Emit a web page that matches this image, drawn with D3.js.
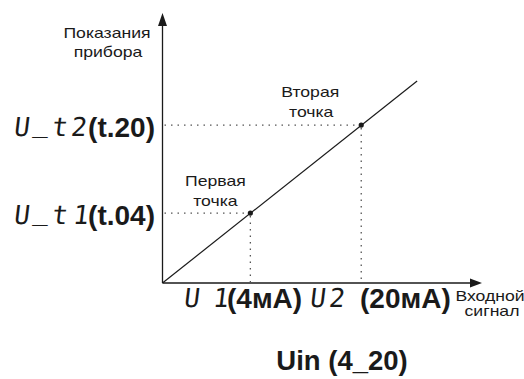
<!DOCTYPE html>
<html><head><meta charset="utf-8">
<script src="https://cdn.jsdelivr.net/npm/d3@7"></script>
<style>body{margin:0;background:#fff}svg{display:block}</style>
</head><body><svg id="c" width="524" height="379"></svg>
<script>
// Data (abstract units, axes 0..100)
const pointNames = [["Первая","точка"],["Вторая","точка"]];
const pointX = [27.5, 62.2];
const pointY = [25.9, 58.5];
const lineEndX = 79.7, lineEndY = 74.8;
const yTickSeg = ["U_t1", "U_t2"];
const yTickLabels = ["(t.04)", "(t.20)"];
const xTickSeg = ["U 1", "U2"];
const xTickLabels = ["(4мА)", "(20мА)"];
const yAxisTitle = ["Показания","прибора"];
const xAxisTitle = ["Входной","сигнал"];
const title = "Uin (4_20)";

const svg = d3.select("#c");
const x = d3.scaleLinear().domain([0,100]).range([162.5,482]);
const y = d3.scaleLinear().domain([0,100]).range([283,13]);
const ink = "#1a1a1a";

// axes
svg.append("line").attr("x1",x(0)).attr("x2",x(97)).attr("y1",y(0)).attr("y2",y(0)).attr("stroke",ink).attr("stroke-width",1.3);
svg.append("line").attr("x1",x(0)).attr("x2",x(0)).attr("y1",y(0)).attr("y2",y(96)).attr("stroke",ink).attr("stroke-width",1.3);
svg.append("path").attr("d",`M${x(100)},${y(0)} L${x(100)-12},${y(0)-4.5} L${x(100)-12},${y(0)+4.5}Z`).attr("fill",ink);
svg.append("path").attr("d",`M${x(0)},${y(100)} L${x(0)-4.5},${y(100)+13} L${x(0)+4.5},${y(100)+13}Z`).attr("fill",ink);

// guides
pointX.forEach((px,i)=>{
  svg.append("line").attr("x1",x(0)+2).attr("x2",x(px)).attr("y1",y(pointY[i])).attr("y2",y(pointY[i]))
    .attr("stroke","#555").attr("stroke-width",1.3).attr("stroke-dasharray","1.5,5");
  svg.append("line").attr("x1",x(px)).attr("x2",x(px)).attr("y1",y(pointY[i])+3).attr("y2",y(0))
    .attr("stroke","#555").attr("stroke-width",1.3).attr("stroke-dasharray","1.5,5");
});

// line
svg.append("line").attr("x1",x(0)).attr("y1",y(0)).attr("x2",x(lineEndX)).attr("y2",y(lineEndY))
  .attr("stroke",ink).attr("stroke-width",1.2);
pointX.forEach((px,i)=>svg.append("circle").attr("cx",x(px)).attr("cy",y(pointY[i])).attr("r",2.6).attr("fill",ink));

const reg = "Liberation Sans, Arial, sans-serif";
function regText(cx, by, s){
  svg.append("text").attr("transform",`translate(${cx},${by}) scale(1.26,1)`).attr("text-anchor","middle")
    .attr("font-family",reg).attr("font-size",14).attr("fill",ink).text(s);
}
// point notes
const noteDx = [[-35,-35],[-51,-50]];
const noteDy = [[-27,-7],[-28,-8]];
pointNames.forEach((n,i)=>{
  regText(x(pointX[i])+noteDx[i][0], y(pointY[i])+noteDy[i][0], n[0]);
  regText(x(pointX[i])+noteDx[i][1], y(pointY[i])+noteDy[i][1], n[1]);
});

// axis titles
regText(107, 38, yAxisTitle[0]);
regText(108, 57, yAxisTitle[1]);
regText(490, 301, xAxisTitle[0]);
regText(492, 316, xAxisTitle[1]);

// segment-style tick labels: one text per label, glyphs placed in fixed cells
const seg = "DejaVu Sans Mono, monospace";
function segText(tx, ty, s, pitch, oneShift){
  const t = svg.append("text").attr("transform",`translate(${tx},${ty}) skewX(-7)`).attr("font-family",seg)
    .attr("font-size",26).attr("fill",ink);
  [...s].forEach((ch,k)=>{
    if (ch===" ") return;
    let cx = k*pitch + 6;
    if (ch==="1") cx += oneShift;
    t.append("tspan").attr("x",cx).attr("y", ch==="_" ? -4 : 0).attr("text-anchor","middle").text(ch);
  });
}
// y ticks
pointY.forEach((py,i)=>{
  const by = y(py)+12;
  segText(15, by-1, yTickSeg[i], 19, 2);
  svg.append("text").attr("x",155).attr("y",by).attr("text-anchor","end").attr("font-family",reg).attr("font-weight","bold").attr("font-size",28).attr("fill",ink).text(yTickLabels[i]);
});
// x ticks
const xSegX = [185, 311], xLabX = [227, 360];
pointX.forEach((px,i)=>{
  segText(xSegX[i], 307, xTickSeg[i], 19, -9);
  svg.append("text").attr("x",xLabX[i]).attr("y",308).attr("font-family",reg).attr("font-weight","bold").attr("font-size",28).attr("fill",ink).text(xTickLabels[i]);
});

svg.append("text").attr("x",342).attr("y",370).attr("text-anchor","middle").attr("font-family",reg).attr("font-weight","bold").attr("font-size",27.5).attr("fill",ink).text(title);
</script></body></html>
